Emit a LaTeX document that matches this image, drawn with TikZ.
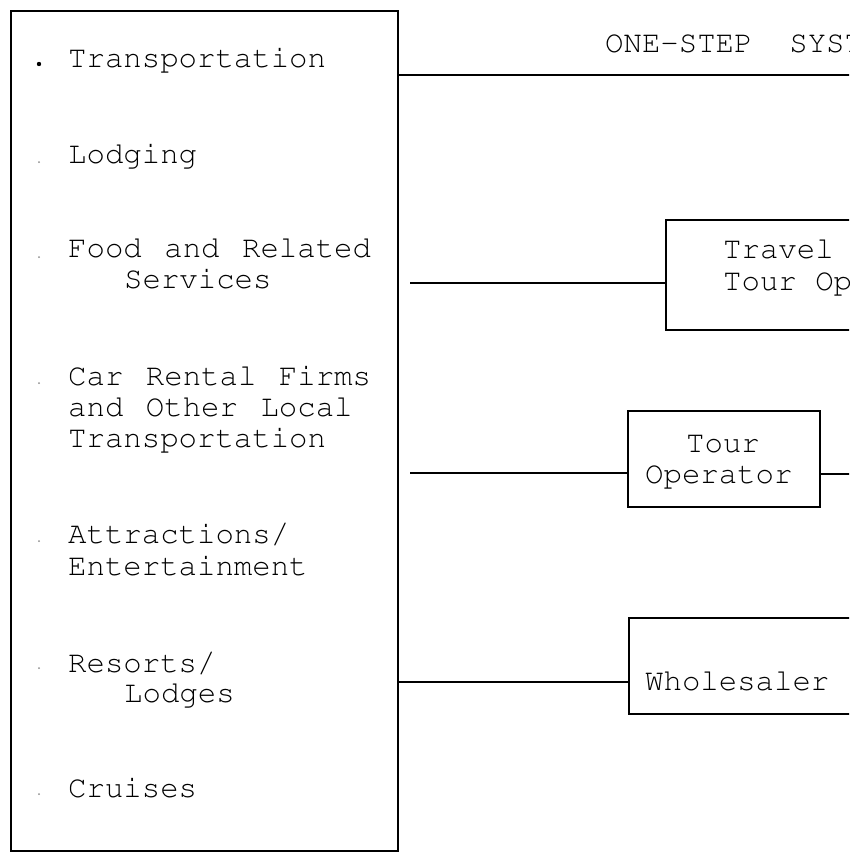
\documentclass[tikz,border=0pt]{standalone}
\usepackage[T1,TU]{fontenc}
\usetikzlibrary{calc}
% typewriter face used for every label
\newcommand\courfont{\fontencoding{T1}\fontfamily{pcr}\fontseries{m}\fontshape{n}\fontsize{30.7}{31.5}\selectfont}
% same face with the wider word gaps of the supplier list
\newcommand\listfont{\courfont\spaceskip 22.5pt\relax}

\begin{document}
\begin{tikzpicture}[x=1pt,y=-1pt,
  frame/.style={draw, line width=2pt, inner sep=0pt, anchor=north west},
  txt/.style={font=\courfont, inner sep=0pt, anchor=base west},
  item/.style={font=\listfont, inner sep=0pt, anchor=base west},
  link/.style={line width=1.5pt}]
\useasboundingbox (0,0) rectangle (849,857);
\clip (0,0) rectangle (849,857);

% boxes
\node[frame, minimum width=387pt, minimum height=840pt] (supply) at (10,10) {};
\node[frame, minimum width=260pt, minimum height=110pt] (travel) at (665,219) {};
\node[frame, minimum width=192pt, minimum height=96pt] (tour) at (627,410) {};
\node[frame, minimum width=260pt, minimum height=96pt] (whole) at (628,617) {};

% supplier list
\node[item] (t1) at (68,67) {Transportation};
\node[item] (t2) at (68,163) {Lodging};
\node[item] (t3a) at (68,257) {Food and Related};
\node[item] (t3b) at (124,288) {Services};
\node[item] (t4a) at (68,385) {Car Rental Firms};
\node[item] (t4b) at (68,416) {and Other Local};
\node[item] (t4c) at (68,447) {Transportation};
\node[item] (t5a) at (68,543) {Attractions/};
\node[item] (t5b) at (68,575) {Entertainment};
\node[item] (t6a) at (68,672) {Resorts/};
\node[item] (t6b) at (124,702) {Lodges};
\node[item] (t7) at (68,797) {Cruises};

% bullets
\fill (39,64) circle (2.2pt);
\foreach \yy in {162,257,383,541,668,794}
  \fill[black!45] (39,\yy) circle (1pt);

% intermediaries
\node[txt] (title) at (605,52) {ONE-STEP\ \ SYST};
\node[txt] (travelA) at (723,258) {Travel};
\node[txt] (travelB) at (723,290) {Tour Op};
\node[txt] (tourA) at (686,452) {Tour};
\node[txt] (tourB) at (645,483) {Operator};
\node[txt] (wholeA) at (645,690) {Wholesaler};

% connectors
\coordinate (topEnd) at (870,75);
\coordinate (foodStart) at (410,283);
\coordinate (carStart) at (410,473);
\coordinate (tourEnd) at (870,474);
\coordinate (resortLevel) at (0,682);

\draw[link, line width=2pt] (supply.east |- topEnd) -- (topEnd);
\draw[link] (foodStart) -- (travel.west |- foodStart);
\draw[link] (carStart) -- (tour.west |- carStart);
\draw[link] (tour.east |- tourEnd) -- (tourEnd);
\draw[link] (supply.east |- resortLevel) -- (whole.west |- resortLevel);
\end{tikzpicture}
\end{document}
